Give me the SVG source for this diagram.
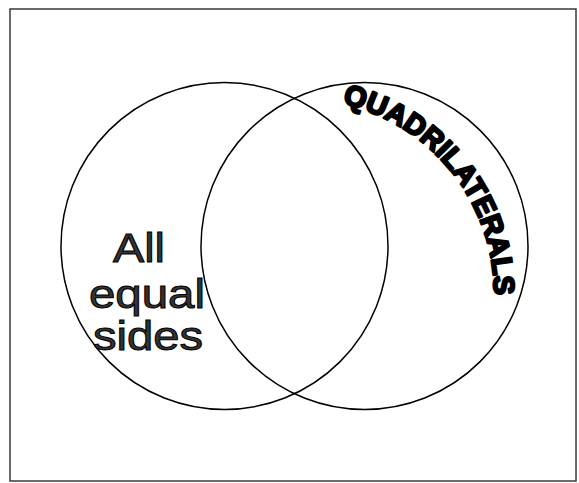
<svg xmlns="http://www.w3.org/2000/svg" xmlns:xlink="http://www.w3.org/1999/xlink" width="579" height="483" viewBox="0 0 579 483">
  <style>
    .ring { fill: none; stroke: #000; stroke-width: 1.5; }
    .frame { fill: #fff; stroke: #3a3a3a; stroke-width: 1.5; }
    .lbl { font-family: "Liberation Sans", Arial, sans-serif; font-size: 41px; fill: #333; stroke: #000; stroke-width: 1; }
    .arch { font-family: "Liberation Sans", Arial, sans-serif; font-weight: bold; font-size: 29px; fill: #000; stroke: #000; stroke-width: 2.4; stroke-linejoin: round; }
  </style>
  <defs>
    <path id="archPath" d="M 342.3 103.7 A 194 194 0 0 1 491.1 326.7"/>
  </defs>
  <rect id="frame" class="frame" x="10" y="9" width="566" height="472"/>
  <g id="connectors"></g>
  <g id="set-left">
    <circle class="ring" cx="224.5" cy="246" r="163.5"/>
  </g>
  <g id="set-right">
    <circle class="ring" cx="364.5" cy="246" r="163.5"/>
  </g>
  <g id="label-quadrilaterals">
    <text class="arch"><textPath xlink:href="#archPath" href="#archPath" textLength="264" lengthAdjust="spacingAndGlyphs">QUADRILATERALS</textPath></text>
  </g>
  <g id="label-all-equal-sides">
    <text class="lbl" x="113" y="262" textLength="52" lengthAdjust="spacingAndGlyphs">All</text>
    <text class="lbl" x="89" y="308" textLength="116" lengthAdjust="spacingAndGlyphs">equal</text>
    <text class="lbl" x="93" y="350" textLength="110" lengthAdjust="spacingAndGlyphs">sides</text>
  </g>
</svg>
